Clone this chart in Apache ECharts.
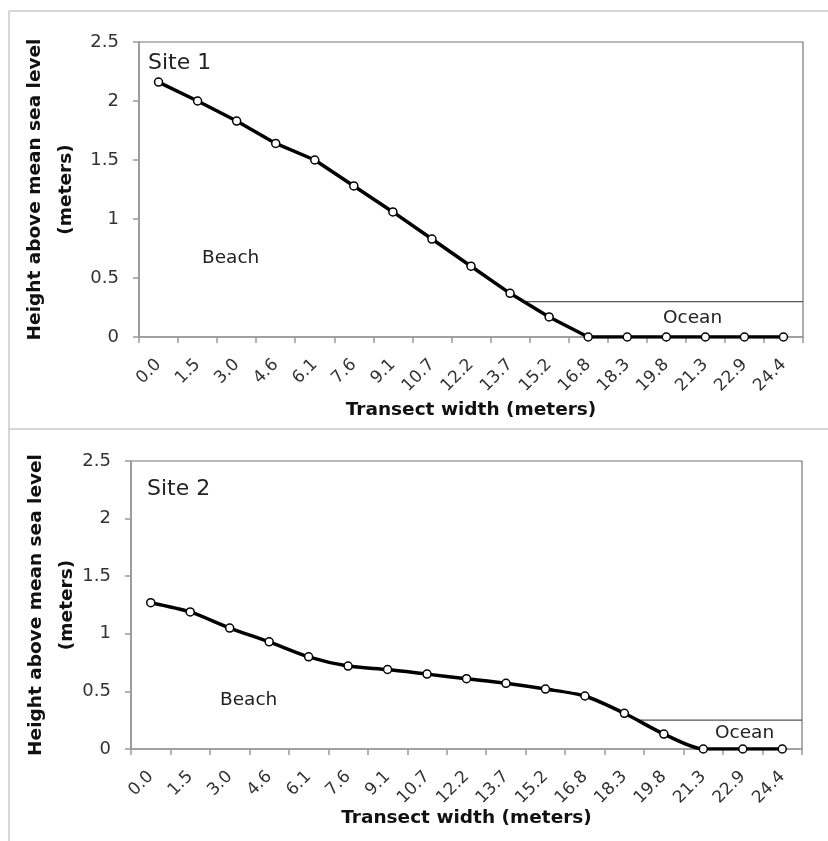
<!DOCTYPE html>
<html>
<head>
<meta charset="utf-8">
<script src="https://cdn.jsdelivr.net/npm/echarts@6/dist/echarts.min.js"></script>
<style>
html,body{margin:0;padding:0;background:#fff;}
#chart{width:828px;height:841px;}
</style>
</head>
<body>
<div id="chart"></div>
<script>
const categories = ['0.0','1.5','3.0','4.6','6.1','7.6','9.1','10.7','12.2','13.7','15.2','16.8','18.3','19.8','21.3','22.9','24.4'];
const site1Heights = [2.16, 2.00, 1.83, 1.64, 1.50, 1.28, 1.06, 0.83, 0.60, 0.37, 0.17, 0, 0, 0, 0, 0, 0];
const site2Heights = [1.27, 1.19, 1.05, 0.93, 0.80, 0.72, 0.69, 0.65, 0.61, 0.57, 0.52, 0.46, 0.31, 0.13, 0, 0, 0];
const site1Ocean = 0.30;
const site2Ocean = 0.25;
const yTicks = [0, 0.5, 1, 1.5, 2, 2.5];

const FONT = 'DejaVu Sans';

function oceanStart(data, level) {
  for (let i = 0; i < data.length - 1; i++) {
    if (data[i] >= level && data[i + 1] <= level) {
      const t = (data[i] - level) / (data[i] - data[i + 1]);
      return i + t + 0.5;
    }
  }
  return 0;
}

const grids = [
  {left: 139, top: 42, width: 664, height: 295},
  {left: 131, top: 461, width: 671, height: 288}
];
const xNameGaps = [64, 60];
const yNameGaps = [57, 48];
const smoothing = [false, 0.25];

function xCat(gi) {
  return {
    type: 'category', gridIndex: gi, data: categories, boundaryGap: true,
    axisLine: {show: true, lineStyle: {color: '#999', width: 1.5}},
    axisTick: {show: true, alignWithLabel: false, length: 6, lineStyle: {color: '#999', width: 1.5}},
    axisLabel: {rotate: 45, fontSize: 17, color: '#333', fontFamily: FONT, margin: 25, interval: 0},
    name: 'Transect width (meters)', nameLocation: 'middle', nameGap: xNameGaps[gi], nameMoveOverlap: false,
    nameTextStyle: {fontSize: 18.5, fontWeight: 'bold', color: '#111', fontFamily: FONT},
    splitLine: {show: false}
  };
}
function xVal(gi) {
  return {type: 'value', gridIndex: gi, min: 0, max: categories.length, show: false, splitLine: {show: false}};
}
function yAx(gi) {
  return {
    type: 'value', gridIndex: gi, min: 0, max: 2.5, interval: 0.5,
    axisLine: {show: true, lineStyle: {color: '#999', width: 1.5}},
    axisTick: {show: true, length: 6, lineStyle: {color: '#999', width: 1.5}},
    axisLabel: {fontSize: 18, color: '#333', fontFamily: FONT, margin: 20,
      formatter: v => { const t = yTicks.find(x => Math.abs(x - v) < 1e-9); return t === undefined ? '' : String(t); }},
    splitLine: {show: false},
    name: 'Height above mean sea level\n(meters)', nameLocation: 'middle', nameRotate: 90, nameGap: yNameGaps[gi], nameMoveOverlap: false,
    nameTextStyle: {fontSize: 18.5, fontWeight: 'bold', color: '#111', fontFamily: FONT, lineHeight: 31}
  };
}

function profileSeries(gi, data) {
  return {
    type: 'line', xAxisIndex: gi * 2, yAxisIndex: gi, data: data,
    smooth: smoothing[gi], symbol: 'circle', symbolSize: 8, showSymbol: true,
    lineStyle: {color: '#000', width: 3.5},
    itemStyle: {color: '#fff', borderColor: '#000', borderWidth: 1.5},
    z: 5, silent: true, animation: false
  };
}
function oceanSeries(gi, data, level) {
  return {
    type: 'line', xAxisIndex: gi * 2 + 1, yAxisIndex: gi,
    data: [[oceanStart(data, level), level], [categories.length, level]],
    symbol: 'none', lineStyle: {color: '#555', width: 1.2}, z: 3, silent: true, animation: false
  };
}

const chart = echarts.init(document.getElementById('chart'), null, {renderer: 'canvas'});
chart.setOption({
  animation: false,
  backgroundColor: '#fff',
  grid: grids.map(g => Object.assign({show: true, borderColor: '#777', borderWidth: 1.2, backgroundColor: 'transparent'}, g)),
  xAxis: [xCat(0), xVal(0), xCat(1), xVal(1)],
  yAxis: [yAx(0), yAx(1)],
  series: [
    profileSeries(0, site1Heights), oceanSeries(0, site1Heights, site1Ocean),
    profileSeries(1, site2Heights), oceanSeries(1, site2Heights, site2Ocean)
  ],
  graphic: [
    {type: 'line', shape: {x1: 9, y1: 11, x2: 828, y2: 11}, style: {stroke: '#c8c8c8', lineWidth: 1.5}},
    {type: 'line', shape: {x1: 9, y1: 11, x2: 9, y2: 841}, style: {stroke: '#c8c8c8', lineWidth: 1.5}},
    {type: 'line', shape: {x1: 9, y1: 429, x2: 828, y2: 429}, style: {stroke: '#c8c8c8', lineWidth: 1.5}},
    {type: 'text', left: 148, top: 52, style: {text: 'Site 1', font: '22px "DejaVu Sans"', fill: '#222'}},
    {type: 'text', left: 147, top: 478, style: {text: 'Site 2', font: '22px "DejaVu Sans"', fill: '#222'}},
    {type: 'text', left: 202, top: 249, style: {text: 'Beach', font: '18.5px "DejaVu Sans"', fill: '#222'}},
    {type: 'text', left: 220, top: 691, style: {text: 'Beach', font: '18.5px "DejaVu Sans"', fill: '#222'}},
    {type: 'text', left: 663, top: 309, style: {text: 'Ocean', font: '18.5px "DejaVu Sans"', fill: '#222'}},
    {type: 'text', left: 715, top: 724, style: {text: 'Ocean', font: '18.5px "DejaVu Sans"', fill: '#222'}}
  ]
});
</script>
</body>
</html>
